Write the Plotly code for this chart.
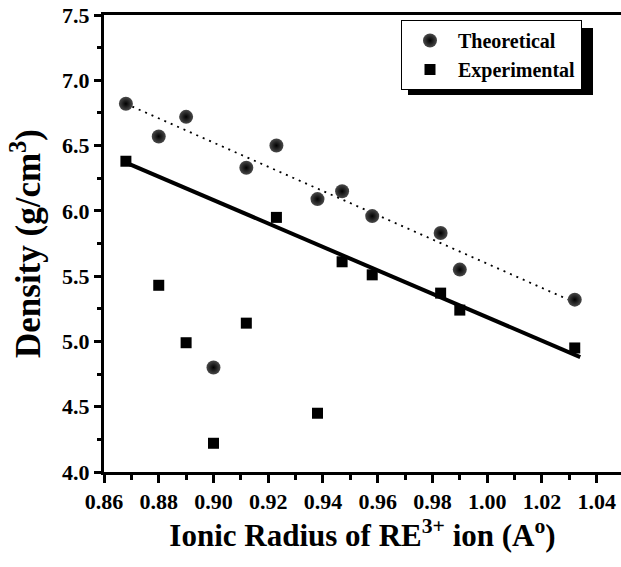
import plotly.graph_objects as go

# Data: ionic radius of RE3+ ions (Å) and densities (g/cm3)
radius = [0.868, 0.880, 0.890, 0.900, 0.912, 0.923, 0.938, 0.947, 0.958, 0.983, 0.990, 1.032]
theoretical = [6.82, 6.57, 6.72, 4.80, 6.33, 6.50, 6.09, 6.15, 5.96, 5.83, 5.55, 5.32]
experimental = [6.38, 5.43, 4.99, 4.22, 5.14, 5.95, 4.45, 5.61, 5.51, 5.37, 5.24, 4.95]

# Linear fit lines (end points)
fit_x = [0.868, 1.034]
fit_theoretical = [6.82, 5.28]
fit_experimental = [6.37, 4.88]

y_ticks = [4.0, 4.5, 5.0, 5.5, 6.0, 6.5, 7.0, 7.5]
x_ticks = [0.86, 0.88, 0.90, 0.92, 0.94, 0.96, 0.98, 1.00, 1.02, 1.04]

FONT = "Liberation Serif, Times New Roman, serif"
L, T, PW, PH = 104, 15, 517, 457  # plot area in px


def px_x(p):
    return (p - L) / PW


def px_y(p):
    return (T + PH - p) / PH


fig = go.Figure()

fig.add_trace(go.Scatter(
    x=fit_x, y=fit_theoretical, mode="lines",
    line=dict(color="black", width=1.8, dash="2px,5px"),
    showlegend=False, hoverinfo="skip"))
fig.add_trace(go.Scatter(
    x=fit_x, y=fit_experimental, mode="lines",
    line=dict(color="black", width=4),
    showlegend=False, hoverinfo="skip"))

fig.add_trace(go.Scatter(
    x=radius, y=theoretical, mode="markers", name="Theoretical",
    marker=dict(symbol="circle", size=14, color="#4a4a4a",
                gradient=dict(type="radial", color="black"),
                line=dict(width=0))))
fig.add_trace(go.Scatter(
    x=radius, y=experimental, mode="markers", name="Experimental",
    marker=dict(symbol="square", size=11, color="black", line=dict(width=0))))

# legend shadow (legend box offset by 7 px)
fig.add_shape(type="rect", xref="paper", yref="paper",
              x0=px_x(408), x1=px_x(593),
              y0=px_y(95), y1=px_y(28),
              fillcolor="black", line=dict(width=0), layer="above")

tickfont = dict(family=FONT, size=22, weight=700, color="black")

fig.update_layout(
    width=621, height=567,
    margin=dict(l=L, r=621 - L - PW, t=T, b=567 - T - PH),
    paper_bgcolor="white", plot_bgcolor="white",
    font=dict(family=FONT, color="black", weight=700),
    showlegend=True,
    legend=dict(
        x=px_x(401), y=px_y(20), xanchor="left", yanchor="top",
        bgcolor="white", bordercolor="black", borderwidth=1,
        font=dict(family=FONT, size=20, weight=700, color="black"),
        itemwidth=46, tracegroupgap=0),
    xaxis=dict(
        range=[0.86, 1.0489], tickvals=x_ticks,
        ticktext=[f"{v:.2f}" for v in x_ticks],
        ticks="outside", ticklen=8, tickwidth=2.5, tickcolor="black",
        minor=dict(dtick=0.01, tick0=0.86, ticks="outside", ticklen=5, tickwidth=2.5, tickcolor="black"),
        showline=True, linewidth=3, linecolor="black", mirror=True,
        showgrid=False, zeroline=False,
        tickfont=tickfont,
        title=dict(text="Ionic Radius of RE<sup>3+</sup> ion (A<sup>o</sup>)",
                   font=dict(family=FONT, size=31, weight=700), standoff=9)),
    yaxis=dict(
        range=[4.0, 7.5], tickvals=y_ticks,
        ticktext=[f"{v:.1f}" for v in y_ticks],
        ticks="outside", ticklen=7, tickwidth=2.5, tickcolor="black",
        minor=dict(dtick=0.25, tick0=4.0, ticks="outside", ticklen=4, tickwidth=2.5, tickcolor="black"),
        showline=True, linewidth=3, linecolor="black", mirror=False,
        showgrid=False, zeroline=False,
        tickfont=tickfont,
        title=dict(text="Density (g/cm<sup>3</sup>)",
                   font=dict(family=FONT, size=35, weight=700), standoff=11)),
)

fig.write_html("out.html", config={"displayModeBar": False},
               post_script="document.body.style.margin='0';document.body.style.overflow='hidden';")
